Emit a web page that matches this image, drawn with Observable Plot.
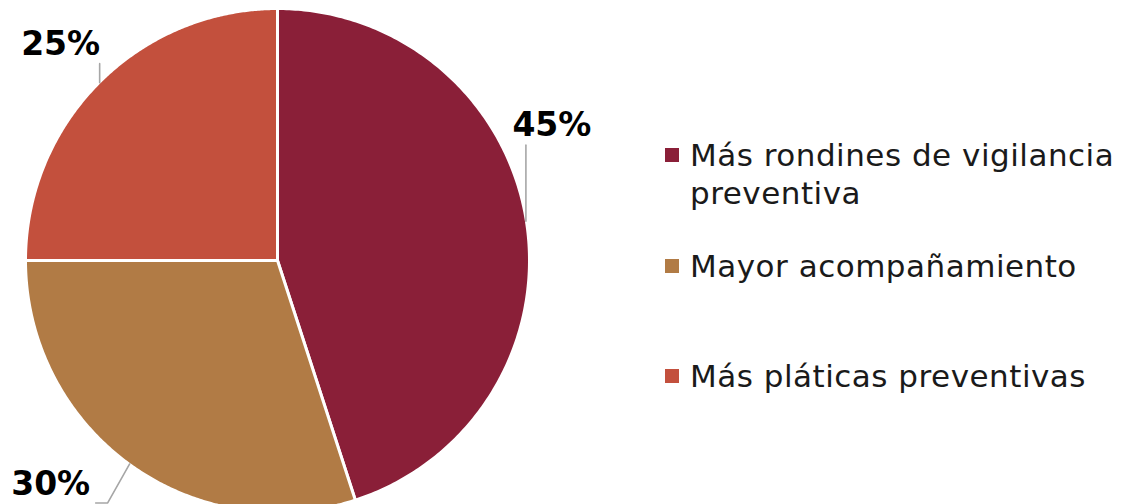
<!DOCTYPE html>
<html><head><meta charset="utf-8">
<script src="https://cdn.jsdelivr.net/npm/d3@7"></script>
<script src="https://cdn.jsdelivr.net/npm/@observablehq/plot@0.6"></script>
<style>
html,body{margin:0;padding:0;background:#fff;}
#wrap{position:relative;width:1124px;height:504px;overflow:hidden;font-family:"DejaVu Sans",sans-serif;}
#chart{position:absolute;left:0;top:0;}
.item{position:absolute;left:665px;display:flex;align-items:flex-start;}
.sw{width:14px;height:14px;margin-top:12px;margin-right:11px;flex:none;}
.lbl{font-size:31px;line-height:38px;color:#1a1a1a;width:440px;letter-spacing:0.5px;}
</style></head><body><div id="wrap"><div id="chart"></div></div>
<script>
// ---- data ----
const categories = ["Más rondines de vigilancia preventiva", "Mayor acompañamiento", "Más pláticas preventivas"];
const values = [45, 30, 25];
const valueLabels = ["45%", "30%", "25%"];
const colors = ["#8A1F38", "#B17B45", "#C3503D"];

// ---- layout (pixels) ----
const W = 1124, H = 504;
const cx = 277, cy = 260, r = 252;
const leaderOffsets = [[[0, 0], [0, -76]], [[0, 0], [-22, 39], [-34, 39]], [[0, 0], [0, -19]]];
const labelOffsets = [[26, -96], [-79, 20], [-39, -38]];
const legendCenters = [155, 265.5, 376];

const arcs = d3.pie().sort(null).value(d => d)(values);
const pt = (a, rad) => [cx + rad * Math.sin(a), cy - rad * Math.cos(a)];

const slices = arcs.map((a, i) => {
  const pts = [{x: cx, y: cy}];
  const n = 240;
  for (let k = 0; k <= n; k++) {
    const ang = a.startAngle + (a.endAngle - a.startAngle) * k / n;
    const [x, y] = pt(ang, r);
    pts.push({x, y});
  }
  return pts;
});

const mids = arcs.map(a => pt((a.startAngle + a.endAngle) / 2, r - 0.5));
const leaders = mids.map((m, i) => leaderOffsets[i].map(([dx, dy]) => ({x: m[0] + dx, y: m[1] + dy, k: i})));
const labelData = mids.map((m, i) => ({x: m[0] + labelOffsets[i][0], y: m[1] + labelOffsets[i][1], t: valueLabels[i]}));

const marks = [];
slices.forEach((s, i) => marks.push(Plot.line(s, {x: "x", y: "y", fill: colors[i], stroke: "white", strokeWidth: 3, curve: "linear-closed", strokeLinejoin: "round"})));
marks.push(Plot.line(leaders.flat(), {x: "x", y: "y", z: "k", stroke: "#A6A6A6", strokeWidth: 1.6}));
marks.push(Plot.text(labelData, {x: "x", y: "y", text: "t", fontSize: 33, fontWeight: "bold", fill: "#000", textAnchor: "middle", lineAnchor: "middle", fontFamily: "DejaVu Sans"}));

const chart = Plot.plot({
  width: W, height: H,
  margin: 0,
  x: {domain: [0, W], range: [0, W], axis: null},
  y: {domain: [0, H], range: [0, H], axis: null},
  style: {background: "transparent", overflow: "visible"},
  marks
});
document.getElementById("chart").appendChild(chart);

const wrap = document.getElementById("wrap");
categories.forEach((c, i) => {
  const it = document.createElement("div");
  it.className = "item";
  it.style.top = (legendCenters[i] - 19) + "px";
  const sw = document.createElement("div");
  sw.className = "sw"; sw.style.background = colors[i];
  const lb = document.createElement("div");
  lb.className = "lbl"; lb.textContent = c;
  it.appendChild(sw); it.appendChild(lb);
  wrap.appendChild(it);
});
</script></body></html>
